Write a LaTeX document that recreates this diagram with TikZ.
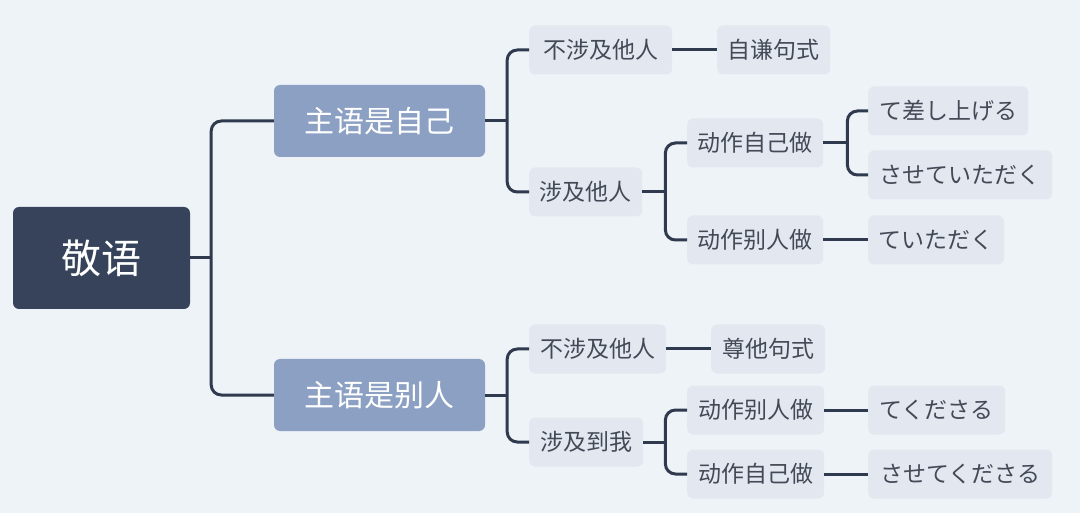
\documentclass[tikz,border=0pt]{standalone}
\usepackage{fontspec}
\setmainfont{Noto Sans CJK SC}
\definecolor{bgc}{HTML}{EEF3F8}
\definecolor{rootc}{HTML}{37435B}
\definecolor{lonec}{HTML}{8BA0C3}
\definecolor{grayc}{HTML}{E3E8F0}
\definecolor{txtc}{HTML}{434956}
\definecolor{linec}{HTML}{2F3A4E}
\begin{document}
\begin{tikzpicture}[x=1pt,y=-1pt,
  rootbox/.style={fill=rootc,rounded corners=6pt,text=white,minimum width=177pt,minimum height=102pt,inner sep=0pt,font=\fontsize{40}{44}\selectfont},
  lonebox/.style={fill=lonec,rounded corners=6pt,text=white,minimum width=211pt,minimum height=72pt,inner sep=0pt,font=\fontsize{30}{34}\selectfont},
  gbox/.style={fill=grayc,rounded corners=6pt,text=txtc,minimum height=49pt,inner sep=0pt,anchor=west,font=\fontsize{23}{26}\selectfont},
  conn/.style={draw=linec,line width=3pt},
  elbow/.style={conn,rounded corners=10pt}]
\useasboundingbox[fill=bgc] (0,0) rectangle (1080,513);
% nodes
\node[rootbox] (root) at (101.5,258) {敬语};
\node[lonebox] (a) at (379.5,121) {主语是自己};
\node[lonebox] (b) at (379.5,395) {主语是别人};
\node[gbox,minimum width=143pt] (a1) at (529,50) {不涉及他人};
\node[gbox,minimum width=113pt] (a1x) at (717,50) {自谦句式};
\node[gbox,minimum width=113pt] (a2) at (529,192) {涉及他人};
\node[gbox,minimum width=136pt] (a21) at (687,143) {动作自己做};
\node[gbox,minimum width=160pt] (a211) at (868,111) {て差し上げる};
\node[gbox,minimum width=184pt] (a212) at (868,175) {させていただく};
\node[gbox,minimum width=136pt] (a22) at (687,240) {动作别人做};
\node[gbox,minimum width=136pt] (a221) at (868,240) {ていただく};
\node[gbox,minimum width=137pt] (b1) at (529,349) {不涉及他人};
\node[gbox,minimum width=114pt] (b1x) at (711,349) {尊他句式};
\node[gbox,minimum width=114pt] (b2) at (529,442) {涉及到我};
\node[gbox,minimum width=137pt] (b21) at (687,410) {动作别人做};
\node[gbox,minimum width=137pt] (b211) at (868,410) {てくださる};
\node[gbox,minimum width=137pt] (b22) at (687,474) {动作自己做};
\node[gbox,minimum width=184pt] (b221) at (868,474) {させてくださる};
% junctions
\path (root.east) ++(21,0) coordinate (j0);
\path (a.east) ++(22,0) coordinate (ja);
\path (b.east) ++(22,0) coordinate (jb);
\path (a2.east) ++(23,0) coordinate (ja2);
\path (a21.east) ++(24,0) coordinate (ja21);
\path (b2.east) ++(22,0) coordinate (jb2);
% connectors
\draw[conn] (root.east) -- (j0);
\draw[elbow] (j0) |- (a.west);
\draw[elbow] (j0) |- (b.west);
\draw[conn] (a.east) -- (ja);
\draw[elbow] (ja) |- (a1.west);
\draw[elbow] (ja) |- (a2.west);
\draw[conn] (a1.east) -- (a1x.west);
\draw[conn] (a2.east) -- (ja2);
\draw[elbow] (ja2) |- (a21.west);
\draw[elbow] (ja2) |- (a22.west);
\draw[conn] (a21.east) -- (ja21);
\draw[elbow] (ja21) |- (a211.west);
\draw[elbow] (ja21) |- (a212.west);
\draw[conn] (a22.east) -- (a221.west);
\draw[conn] (b.east) -- (jb);
\draw[elbow] (jb) |- (b1.west);
\draw[elbow] (jb) |- (b2.west);
\draw[conn] (b1.east) -- (b1x.west);
\draw[conn] (b2.east) -- (jb2);
\draw[elbow] (jb2) |- (b21.west);
\draw[elbow] (jb2) |- (b22.west);
\draw[conn] (b21.east) -- (b211.west);
\draw[conn] (b22.east) -- (b221.west);
\end{tikzpicture}
\end{document}
